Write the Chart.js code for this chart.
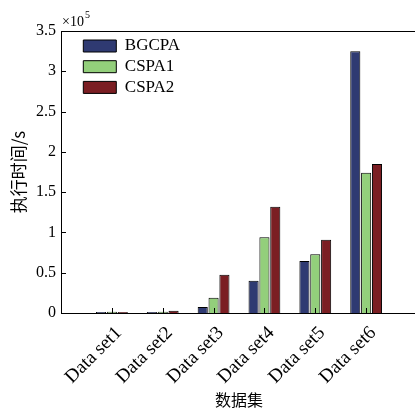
<!DOCTYPE html>
<html>
<head>
<meta charset="utf-8">
<script src="https://cdn.jsdelivr.net/npm/chart.js@4.4.1/dist/chart.umd.min.js"></script>
<style>
  html, body { margin: 0; padding: 0; overflow: hidden; background: #fff; }
  #wrap { position: absolute; left: 0; top: 0; width: 418px; height: 412px; }
</style>
</head>
<body>
<div id="wrap"><canvas id="c"></canvas></div>
<script>
// Data (values in units of ×10^5 s)
const categories = ['Data set1', 'Data set2', 'Data set3', 'Data set4', 'Data set5', 'Data set6'];
const seriesNames = ['BGCPA', 'CSPA1', 'CSPA2'];
const bgcpa = [0.012, 0.012, 0.075, 0.40, 0.645, 3.25];
const cspa1 = [0.015, 0.015, 0.19, 0.94, 0.73, 1.74];
const cspa2 = [0.012, 0.028, 0.475, 1.32, 0.91, 1.85];
const yTickValues = [0, 0.5, 1, 1.5, 2, 2.5, 3, 3.5];
const yTickLabels = ['0', '0.5', '1', '1.5', '2', '2.5', '3', '3.5'];
const xTitle = '数据集';
const yTitle = '执行时间/s';
const colors = ['#2f3a72', '#93cf7b', '#7b1e23'];

const serif = "'Liberation Serif', 'Times New Roman', serif";
const cjk = "'Noto Sans CJK SC', sans-serif";

function toPoints(arr) { return arr.map((v, i) => ({ x: i + 1, y: v })); }

const axesPlugin = {
  id: 'axesExtras',
  afterLayout(chart) {
    if (chart.legend) {
      chart.legend.left = chart.chartArea.left + 18.6;
      chart.legend.top = chart.chartArea.top + 2.8;
    }
  },
  afterDatasetsDraw(chart) {
    const ctx = chart.ctx, a = chart.chartArea;
    const xs = chart.scales.x, ys = chart.scales.y;
    ctx.save();
    ctx.strokeStyle = '#000';
    ctx.lineWidth = 1;
    ctx.beginPath();
    ctx.moveTo(a.left, Math.round(a.top) + 0.5);
    ctx.lineTo(a.right, Math.round(a.top) + 0.5);
    yTickValues.forEach(v => {
      const y = Math.round(ys.getPixelForValue(v)) + 0.5;
      ctx.moveTo(a.left, y); ctx.lineTo(a.left + 5, y);
    });
    categories.forEach((c, i) => {
      const x = Math.round(xs.getPixelForValue(i + 1)) + 0.5;
      ctx.moveTo(x, a.bottom); ctx.lineTo(x, a.bottom - 5);
    });
    ctx.stroke();
    ctx.fillStyle = '#000';
    ctx.textBaseline = 'alphabetic';
    ctx.textAlign = 'left';
    ctx.font = "14px " + serif;
    ctx.fillText('×10', a.left + 1, a.top - 5);
    const w = ctx.measureText('×10').width;
    ctx.font = "10px " + serif;
    ctx.fillText('5', a.left + 2 + w, a.top - 13);
    ctx.restore();
  }
};

new Chart(document.getElementById('c'), {
  type: 'bar',
  data: {
    datasets: [
      { label: seriesNames[0], data: toPoints(bgcpa), backgroundColor: colors[0], borderColor: '#000', borderWidth: 1 },
      { label: seriesNames[1], data: toPoints(cspa1), backgroundColor: colors[1], borderColor: '#000', borderWidth: 1 },
      { label: seriesNames[2], data: toPoints(cspa2), backgroundColor: colors[2], borderColor: '#000', borderWidth: 1 }
    ]
  },
  options: {
    responsive: true,
    maintainAspectRatio: false,
    animation: false,
    devicePixelRatio: 1,
    categoryPercentage: 0.64,
    barPercentage: 0.93,
    layout: { padding: { top: 31, right: 1, left: 0, bottom: 0 } },
    plugins: {
      legend: {
        position: 'chartArea',
        align: 'start',
        labels: {
          boxWidth: 33, boxHeight: 12, padding: 3.7,
          color: '#000',
          font: { family: serif, size: 17 }
        }
      },
      tooltip: { enabled: false }
    },
    scales: {
      x: {
        type: 'linear',
        offset: false,
        min: 0, max: 7,
        position: 'bottom',
        grid: { display: false, drawTicks: false, offset: false },
        border: { display: true, color: '#000', width: 1 },
        ticks: {
          stepSize: 1,
          autoSkip: false,
          minRotation: 45, maxRotation: 45,
          padding: 9,
          labelOffset: 7,
          color: '#000',
          font: { family: serif, size: 19 },
          callback: (v) => (Number.isInteger(v) && v >= 1 && v <= categories.length) ? categories[v - 1] : ''
        },
        title: { display: true, text: xTitle, color: '#000', font: { family: cjk, size: 16 }, padding: { top: 2, bottom: 2 } },
        afterFit: (s) => { s.height = 99; s.paddingLeft = 0; s.paddingRight = 0; }
      },
      y: {
        min: 0, max: 3.5,
        grid: { display: false, drawTicks: false },
        border: { display: true, color: '#000', width: 1 },
        ticks: {
          stepSize: 0.5,
          padding: 5,
          color: '#000',
          font: { family: serif, size: 16 },
          callback: (v) => { const i = yTickValues.indexOf(v); return i >= 0 ? yTickLabels[i] : ''; }
        },
        title: { display: true, text: yTitle, color: '#000', font: { family: cjk, size: 17 }, padding: { top: 8, bottom: 8 } },
        afterFit: (s) => { s.width = 61; s.paddingTop = 0; s.paddingBottom = 0; }
      }
    }
  },
  plugins: [axesPlugin]
});
</script>
</body>
</html>
